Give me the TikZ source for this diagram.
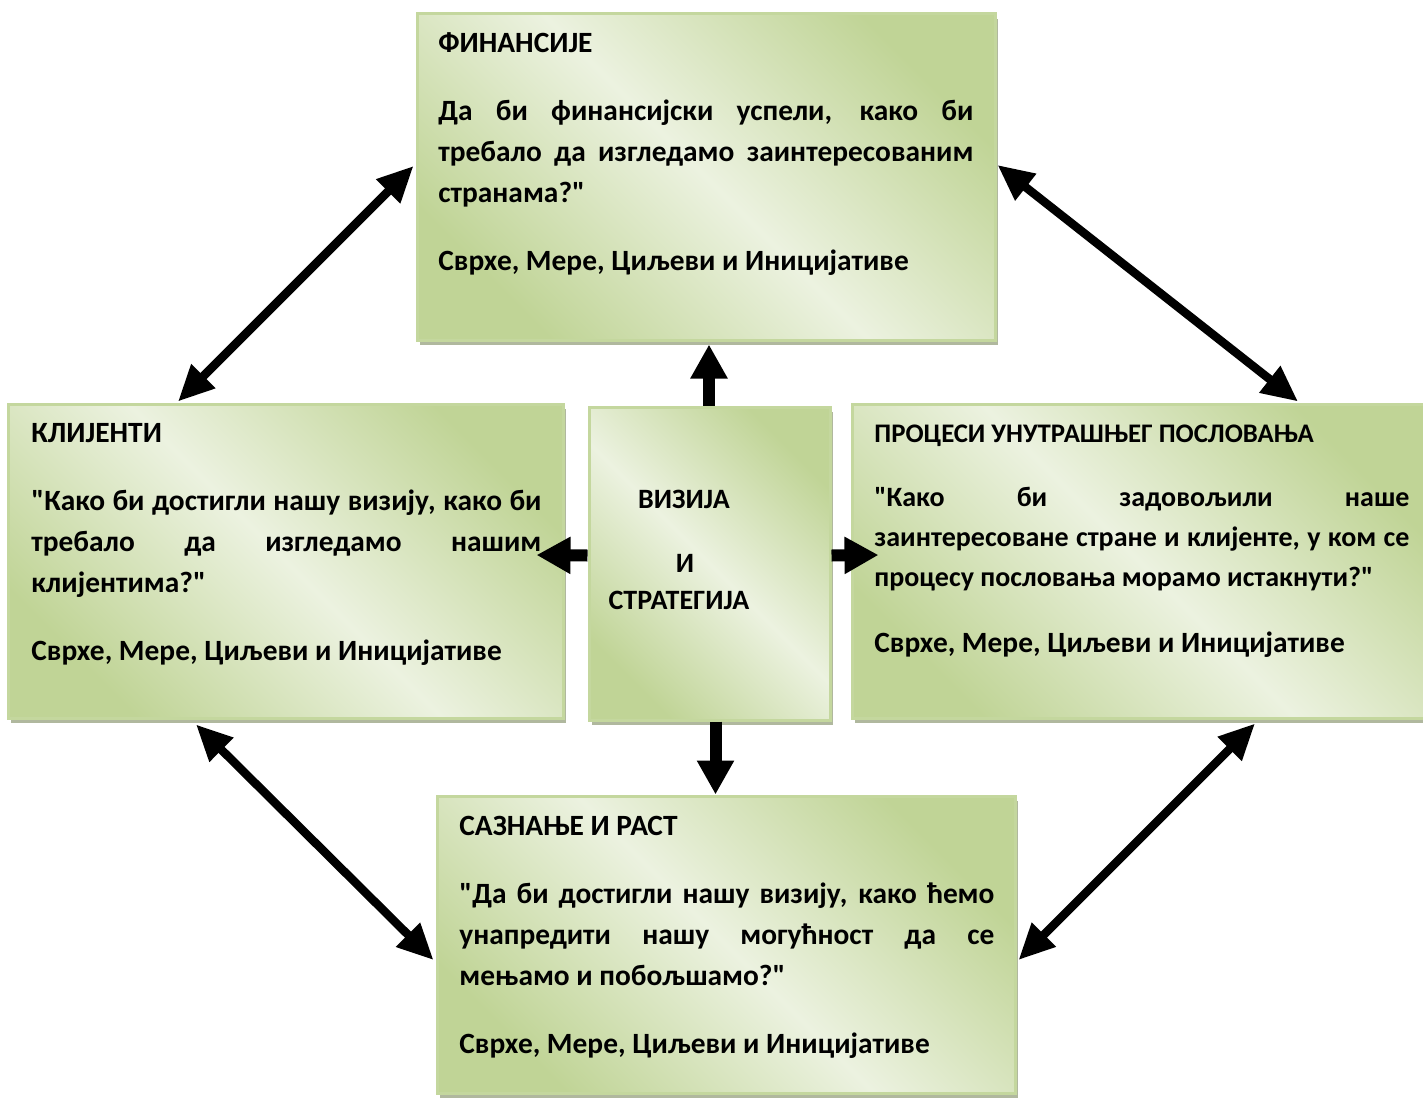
\documentclass[tikz,border=0pt]{standalone}
\usepackage{fontspec}
\setmainfont{Carlito}[Ligatures=TeXOff]
\usetikzlibrary{arrows.meta,calc,shadows}
\definecolor{gdark}{RGB}{192,212,150}
\definecolor{glight}{RGB}{236,242,224}
\definecolor{gborder}{RGB}{196,215,158}
\definecolor{shadowc}{RGB}{176,184,158}
\newcommand\jl[1]{\makebox[\linewidth][s]{#1}}
\tikzset{
  box/.style={rectangle, draw=gborder, line width=1.5pt, inner sep=0pt,
    top color=gdark, bottom color=gdark, middle color=glight, shading angle=-45,
    general shadow={fill=shadowc, shadow xshift=1.5pt, shadow yshift=-2.5pt}},
  txt/.style={anchor=base west, inner sep=0pt, font=\bfseries},
  ctxt/.style={anchor=base, inner sep=0pt, font=\bfseries\fontsize{14}{17}\selectfont},
  dbl/.style={line width=4.25pt, {Triangle[length=18pt,width=16pt]}-{Triangle[length=18pt,width=16pt]}},
  blk/.style={line width=6pt, -{Triangle[length=17pt,width=17.5pt]}}
}
\begin{document}
\begin{tikzpicture}[x=0.5pt,y=-0.5pt]
\clip (0,0) rectangle (1423,1097);
\fill[white] (0,0) rectangle (1423,1097);
% boxes
\node (fin) [box, minimum width=289pt, minimum height=163pt] at (706,177) {};
\node (cli) [box, minimum width=277.5pt, minimum height=157pt] at (285.5,561) {};
\node (viz) [box, minimum width=120.5pt, minimum height=156.5pt] at (709.5,563.5) {};
\node (pro) [box, minimum width=287pt, minimum height=157pt] at (1139,561) {};
\node (bot) [box, minimum width=289pt, minimum height=148.5pt] at (726,944.5) {};
% texts
\node (fint) [txt] at (438,53) {\parbox[t]{267.5pt}{\fontsize{14.7}{20.5}\selectfont\bfseries
ФИНАНСИЈЕ\\[13.5pt]
\jl{Да би финансијски успели, како би}\\
\jl{требало да изгледамо заинтересованим}\\
странама?"\\[13.5pt]
Сврхе, Мере, Циљеви и Иницијативе}};
\node (clit) [txt] at (31,442) {\parbox[t]{255pt}{\fontsize{14.7}{20.5}\selectfont\bfseries
КЛИЈЕНТИ\\[13.5pt]
\jl{"Како би достигли нашу визију, како би}\\
\jl{требало да изгледамо нашим}\\
клијентима?"\\[13.5pt]
Сврхе, Мере, Циљеви и Иницијативе}};
\node (prot) [txt] at (874,442) {\parbox[t]{267.5pt}{\fontsize{13.4}{20}\selectfont\bfseries
ПРОЦЕСИ УНУТРАШЊЕГ ПОСЛОВАЊА\\[12pt]
\fontsize{14}{20}\selectfont
\jl{"Како би задовољили наше}\\
\jl{заинтересоване стране и клијенте, у ком се}\\
процесу пословања морамо истакнути?"\\[13pt]
\fontsize{14.7}{20}\selectfont
Сврхе, Мере, Циљеви и Иницијативе}};
\node (bott) [txt] at (459,835) {\parbox[t]{267.5pt}{\fontsize{14.7}{20.5}\selectfont\bfseries
САЗНАЊЕ И РАСТ\\[13.5pt]
\jl{"Да би достигли нашу визију, како ћемо}\\
\jl{унапредити нашу могућност да се}\\
мењамо и побољшамо?"\\[13.5pt]
Сврхе, Мере, Циљеви и Иницијативе}};
\node (v1) [ctxt] at (684,508) {ВИЗИЈА};
\node (v2) [ctxt] at (685,572) {И};
\node (v3) [ctxt] at (679,609) {СТРАТЕГИЈА};
% block arrows from the centre
\coordinate (us) at ($(viz.north)+(-0.5,0)$);
\coordinate (ds) at ($(viz.south)+(6,0)$);
\draw[blk] (us) -- ($(us |- fin.south)+(0,3)$);
\draw[blk] (ds) -- (ds |- bot.north);
\draw[blk] ($(viz.west)+(0,-8)$) -- ($(cli.east)+(-28,-6)$);
\draw[blk] ($(viz.east)+(0,-8)$) -- ($(pro.west)+(28,-6)$);
% double arrows
\draw[dbl] ($(fin.west)+(-2,-11)$) -- ($(cli.north)+(-107.5,-1)$);
\draw[dbl] ($(fin.east)+(1,-12)$) -- ($(pro.north)+(159,-1)$);
\draw[dbl] ($(cli.south)+(-89.5,5)$) -- ($(bot.west)+(-2,15.5)$);
\draw[dbl] ($(pro.south)+(116,4)$) -- ($(bot.east)+(2,15.5)$);
\end{tikzpicture}
\end{document}
